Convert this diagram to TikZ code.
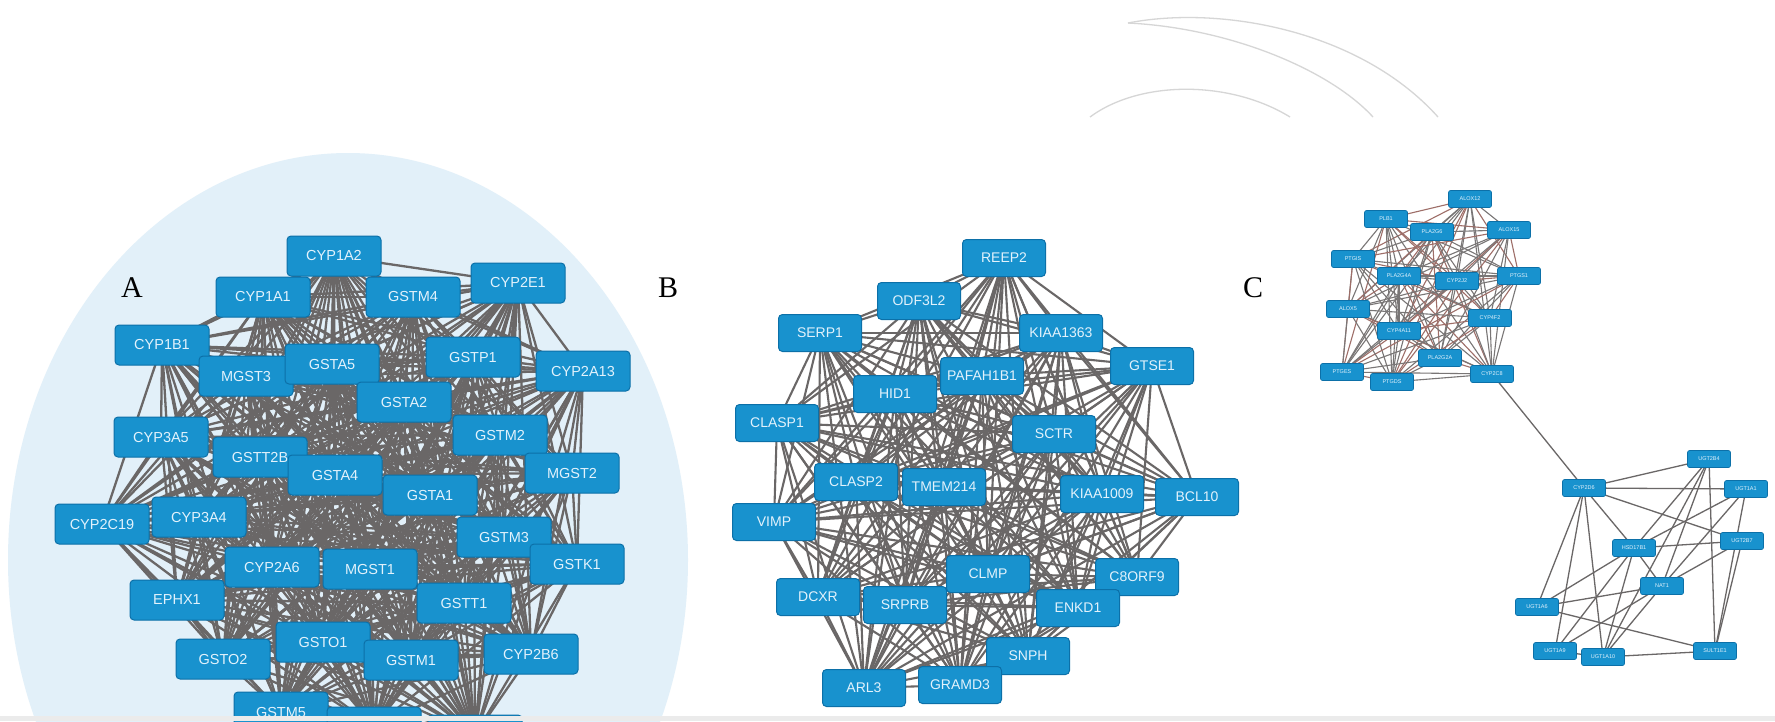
\documentclass[tikz,border=0pt]{standalone}
\usepackage{fontspec}
\setmainfont{Liberation Serif}
\newfontfamily\arialf{Liberation Sans}
\pgfdeclarelayer{bgA}
\pgfdeclarelayer{bgB}
\pgfsetlayers{bgA,bgB,main}
\definecolor{nodeblue}{RGB}{24,146,206}
\definecolor{nodeedge}{RGB}{12,112,168}
\definecolor{edgegray}{RGB}{106,103,103}
\definecolor{circblue}{RGB}{226,240,249}
\definecolor{arcgray}{RGB}{214,214,214}
\definecolor{cred}{RGB}{158,110,104}
\definecolor{labtext}{RGB}{226,242,252}
\tikzset{
  gbox/.style={draw=nodeedge, fill=nodeblue, rounded corners=4pt, line width=1pt, text=labtext,
    font=\arialf\fontsize{14.5}{15}\selectfont, minimum width=94pt, minimum height=40pt, inner sep=0pt},
  bbox/.style={gbox, minimum width=83pt, minimum height=37pt, font=\arialf\fontsize{14}{15}\selectfont},
  cbox/.style={gbox, minimum width=43pt, minimum height=17pt, rounded corners=2pt, line width=0.6pt,
    font=\arialf\fontsize{5.5}{6}\selectfont},
  aedge/.style={draw=edgegray, line width=2.3pt},
  bedge/.style={draw=edgegray, line width=2.1pt},
  cedge/.style={draw=edgegray!90, line width=1.1pt},
  credge/.style={draw=cred, line width=1.1pt},
  lowedge/.style={draw=edgegray, line width=1.3pt},
  panel/.style={font=\fontsize{30}{30}\selectfont, inner sep=0pt},
  arcline/.style={draw=arcgray, line width=1.3pt}
}
\begin{document}
\begin{tikzpicture}[x=1pt,y=-1pt]
\useasboundingbox (0,0) rectangle (1775,721);
\clip (0,0) rectangle (1775,721);
\begin{pgfonlayer}{bgA}
\fill[white] (0,0) rectangle (1775,721);
\fill[circblue] (348,560) ellipse [x radius=340, y radius=407];
\end{pgfonlayer}

% decorative arcs
\draw[arcline] (1128,23) .. controls (1220,5) and (1360,30) .. (1438,117);
\draw[arcline] (1128,23) .. controls (1230,28) and (1330,70) .. (1373,117);
\draw[arcline] (1090,117) .. controls (1140,80) and (1230,80) .. (1290,117);

% panel labels
\node[panel] (labA) at (132,288) {A};
\node[panel] (labB) at (668,288) {B};
\node[panel] (labC) at (1253,288) {C};

% ---------------- Panel A ----------------
\node[gbox] (a1) at (334,256) {CYP1A2};
\node[gbox] (a2) at (263,297) {CYP1A1};
\node[gbox] (a3) at (413,297) {GSTM4};
\node[gbox] (a4) at (518,283) {CYP2E1};
\node[gbox] (a5) at (162,345) {CYP1B1};
\node[gbox] (a6) at (246,376) {MGST3};
\node[gbox] (a7) at (332,364) {GSTA5};
\node[gbox] (a8) at (473,357) {GSTP1};
\node[gbox] (a9) at (583,371) {CYP2A13};
\node[gbox] (a10) at (404,402) {GSTA2};
\node[gbox] (a11) at (161,437) {CYP3A5};
\node[gbox] (a12) at (500,435) {GSTM2};
\node[gbox] (a13) at (260,457) {GSTT2B};
\node[gbox] (a14) at (335,475) {GSTA4};
\node[gbox] (a15) at (572,473) {MGST2};
\node[gbox] (a16) at (430,495) {GSTA1};
\node[gbox] (a17) at (102,524) {CYP2C19};
\node[gbox] (a18) at (199,517) {CYP3A4};
\node[gbox] (a19) at (504,537) {GSTM3};
\node[gbox] (a20) at (577,564) {GSTK1};
\node[gbox] (a21) at (272,567) {CYP2A6};
\node[gbox] (a22) at (370,569) {MGST1};
\node[gbox] (a23) at (177,600) {EPHX1};
\node[gbox] (a24) at (464,603) {GSTT1};
\node[gbox] (a25) at (323,642) {GSTO1};
\node[gbox] (a26) at (223,659) {GSTO2};
\node[gbox] (a27) at (411,660) {GSTM1};
\node[gbox] (a28) at (531,654) {CYP2B6};
\node[gbox] (a29) at (281,712) {GSTM5};
\node[gbox] (a30) at (374,727) {};
\node[gbox] (a31) at (475,735) {};
\begin{pgfonlayer}{bgB}
\foreach \i in {1,...,30}{
  \pgfmathtruncatemacro{\ip}{\i+1}
  \foreach \j in {\ip,...,31}{ \draw[aedge] (a\i.center) -- (a\j.center); }
}
\end{pgfonlayer}

% ---------------- Panel B ----------------
\node[bbox] (b1) at (1004,258) {REEP2};
\node[bbox] (b2) at (919,301) {ODF3L2};
\node[bbox] (b3) at (820,333) {SERP1};
\node[bbox] (b4) at (1061,333) {KIAA1363};
\node[bbox] (b5) at (1152,366) {GTSE1};
\node[bbox] (b6) at (982,376) {PAFAH1B1};
\node[bbox] (b7) at (895,394) {HID1};
\node[bbox] (b8) at (777,423) {CLASP1};
\node[bbox] (b9) at (1054,434) {SCTR};
\node[bbox] (b10) at (856,482) {CLASP2};
\node[bbox] (b11) at (944,487) {TMEM214};
\node[bbox] (b12) at (1102,494) {KIAA1009};
\node[bbox] (b13) at (1197,497) {BCL10};
\node[bbox] (b14) at (774,522) {VIMP};
\node[bbox] (b15) at (988,574) {CLMP};
\node[bbox] (b16) at (1137,577) {C8ORF9};
\node[bbox] (b17) at (818,597) {DCXR};
\node[bbox] (b18) at (905,605) {SRPRB};
\node[bbox] (b19) at (1078,608) {ENKD1};
\node[bbox] (b20) at (1028,656) {SNPH};
\node[bbox] (b21) at (864,688) {ARL3};
\node[bbox] (b22) at (960,685) {GRAMD3};
\begin{pgfonlayer}{bgB}
\foreach \i in {1,...,21}{
  \pgfmathtruncatemacro{\ip}{\i+1}
  \foreach \j in {\ip,...,22}{ \draw[bedge] (b\i.center) -- (b\j.center); }
}
\end{pgfonlayer}

% ---------------- Panel C (upper cluster) ----------------
\node[cbox] (c1) at (1470,199) {ALOX12};
\node[cbox] (c2) at (1386,219) {PLB1};
\node[cbox] (c3) at (1432,232) {PLA2G6};
\node[cbox] (c4) at (1509,230) {ALOX15};
\node[cbox] (c5) at (1353,259) {PTGIS};
\node[cbox] (c6) at (1399,276) {PLA2G4A};
\node[cbox] (c7) at (1457,281) {CYP2J2};
\node[cbox] (c8) at (1519,276) {PTGS1};
\node[cbox] (c9) at (1348,309) {ALOX5};
\node[cbox] (c10) at (1490,318) {CYP4F2};
\node[cbox] (c11) at (1399,331) {CYP4A11};
\node[cbox] (c12) at (1440,358) {PLA2G2A};
\node[cbox] (c13) at (1342,372) {PTGES};
\node[cbox] (c14) at (1392,382) {PTGDS};
\node[cbox] (c15) at (1492,374) {CYP2C8};
\begin{pgfonlayer}{bgB}
\foreach \i in {1,...,14}{
  \pgfmathtruncatemacro{\ip}{\i+1}
  \foreach \j in {\ip,...,15}{
    \pgfmathtruncatemacro{\k}{mod(\i+\j,3)}
    \ifnum\k=0 \draw[credge] (c\i.center) -- (c\j.center);
    \else \draw[cedge] (c\i.center) -- (c\j.center); \fi
  }
}
\end{pgfonlayer}

% ---------------- Panel C (lower cluster) ----------------
\node[cbox] (m1) at (1584,488) {CYP2D6};
\node[cbox] (m2) at (1709,459) {UGT2B4};
\node[cbox] (m3) at (1746,489) {UGT1A1};
\node[cbox] (m4) at (1742,541) {UGT2B7};
\node[cbox] (m5) at (1634,548) {HSD17B1};
\node[cbox] (m6) at (1662,586) {NAT1};
\node[cbox] (m7) at (1537,607) {UGT1A6};
\node[cbox] (m8) at (1555,651) {UGT1A9};
\node[cbox] (m9) at (1603,657) {UGT1A10};
\node[cbox] (m10) at (1715,651) {SULT1E1};
\begin{pgfonlayer}{bgB}
\draw[lowedge] (c15.center) -- (m1.center);
\foreach \p/\q in {m1/m2, m1/m3, m1/m4, m1/m5, m1/m7, m1/m8, m1/m9,
  m2/m5, m2/m6, m2/m9, m2/m10, m3/m5, m3/m6, m3/m10, m4/m5, m4/m6, m4/m10,
  m5/m6, m5/m7, m5/m8, m5/m9, m6/m7, m6/m8, m6/m9, m7/m10, m8/m9, m9/m10}{
  \draw[lowedge] (\p.center) -- (\q.center);
}
\end{pgfonlayer}

% bottom grey strip
\fill[black!8] (0,716) rectangle (1775,721);
\end{tikzpicture}
\end{document}
